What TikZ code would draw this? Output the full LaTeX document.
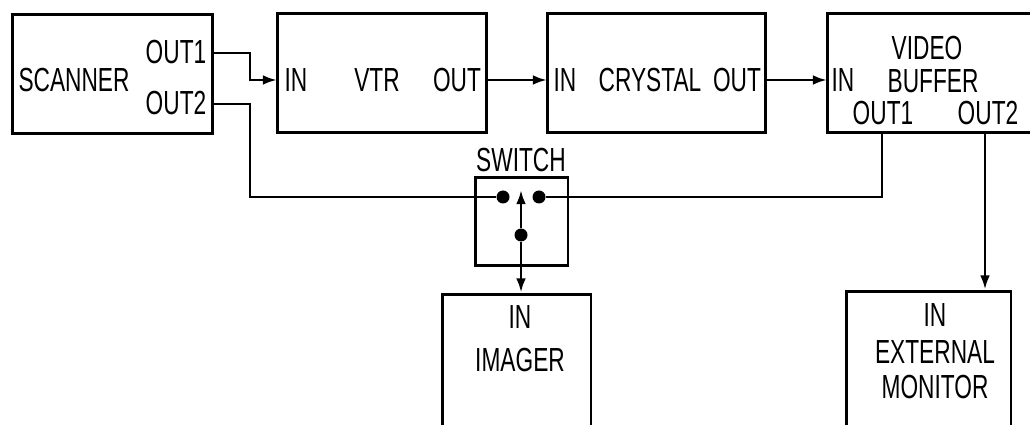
\documentclass[tikz,border=0pt]{standalone}
\usepackage{fontspec}
\setmainfont{Liberation Sans}[FakeStretch=0.68]
\usetikzlibrary{arrows.meta}

\tikzset{
  block/.style={rectangle, draw, line width=1.7pt, inner sep=0pt},
  lbl/.style={inner sep=0pt, font=\fontsize{19}{22}\selectfont},
  dot/.style={circle, fill, inner sep=0pt, minimum size=7.4pt},
  wire/.style={line width=1.5pt},
  arr/.style={wire, -{Latex[length=8pt, width=5.5pt]}}
}

\begin{document}
\begin{tikzpicture}[x=0.02cm, y=-0.02cm]
    \useasboundingbox (0,0) rectangle (1030,425);

    % Nodes
    \node (scanner) [block, minimum width=4.02cm, minimum height=2.4cm] at (112.5,74) {};
    \node (vtr) [block, minimum width=4.2cm, minimum height=2.4cm] at (382,73) {};
    \node (crystal) [block, minimum width=4.38cm, minimum height=2.4cm] at (656.5,73) {};
    \node (buffer) [block, minimum width=4.16cm, minimum height=2.4cm] at (931,73) {};
    \node (switch) [block, minimum width=1.86cm, minimum height=1.78cm] at (521.5,221.5) {};
    \node (imager) [block, minimum width=2.98cm, minimum height=2.92cm] at (516.5,367) {};
    \node (monitor) [block, minimum width=3.3cm, minimum height=2.98cm] at (928.5,365.5) {};

    % Labels
    \node (scannertxt) [lbl] at (74,80) {SCANNER};
    \node (scout1txt) [lbl] at (176,52) {OUT1};
    \node (scout2txt) [lbl] at (176,103) {OUT2};
    \node (vtrintxt) [lbl] at (296,80) {IN};
    \node (vtrtxt) [lbl] at (377,80) {VTR};
    \node (vtrouttxt) [lbl] at (457,80) {OUT};
    \node (crysintxt) [lbl] at (565,80) {IN};
    \node (crystxt) [lbl] at (650,80) {CRYSTAL};
    \node (crysouttxt) [lbl] at (737,80) {OUT};
    \node (videotxt) [lbl] at (927,48) {VIDEO};
    \node (bufintxt) [lbl] at (843,80) {IN};
    \node (buffertxt) [lbl] at (933,81) {BUFFER};
    \node (bufout1txt) [lbl] at (883,113) {OUT1};
    \node (bufout2txt) [lbl] at (988,113) {OUT2};
    \node (switchtxt) [lbl] at (521,160) {SWITCH};
    \node (imgintxt) [lbl] at (520,317) {IN};
    \node (imagertxt) [lbl] at (520,360) {IMAGER};
    \node (monintxt) [lbl] at (935,315) {IN};
    \node (exttxt) [lbl] at (935,352) {EXTERNAL};
    \node (montxt) [lbl] at (935,387) {MONITOR};

    % Switch contacts
    \node (swa) [dot] at (503,197) {};
    \node (swb) [dot] at (539,197) {};
    \node (swc) [dot] at (521,235) {};
    \coordinate (swtip) at (521,190);

    % Ports
    \coordinate (scout1) at (213,53);
    \coordinate (scout2) at (213,104);
    \coordinate (vtrin) at (277,80);
    \coordinate (vtrout) at (487,80);
    \coordinate (crysin) at (547,80);
    \coordinate (crysout) at (766,80);
    \coordinate (bufin) at (827,80);
    \coordinate (bufout1) at (882,133);
    \coordinate (bufout2) at (985,133);

    % Arrows
    \draw[arr] (scout1) -- ++(37,0) |- (vtrin);
    \draw[arr] (vtrout) -- (crysin);
    \draw[arr] (crysout) -- (bufin);
    \draw[wire] (scout2) -- ++(37,0) |- (swa);
    \draw[wire] (bufout1) |- (swb);
    \draw[arr] (bufout2) -- (bufout2 |- monitor.north);
    \draw[arr] (swc) -- (swtip);
    \draw[arr] (swc) -- (swc |- imager.north);
\end{tikzpicture}
\end{document}
